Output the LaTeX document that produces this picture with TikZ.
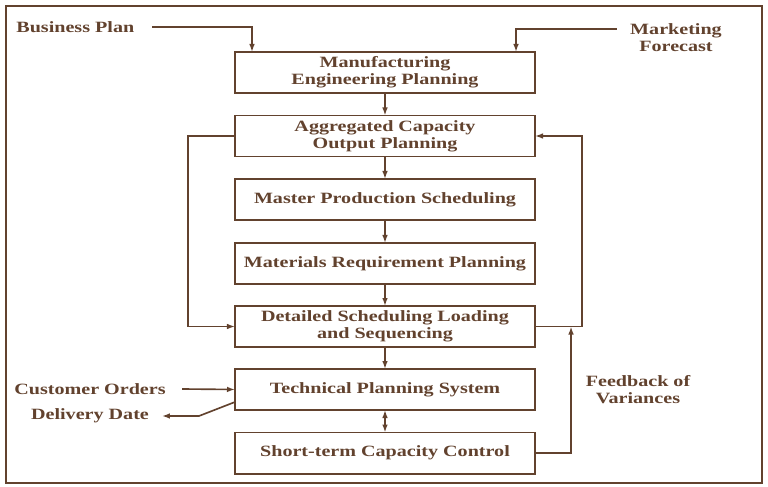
\documentclass[tikz,border=0pt]{standalone}
\usepackage{fontspec}
\setmainfont[FakeStretch=1.28]{Liberation Serif}
\usepackage{tikz}
\usetikzlibrary{arrows.meta,calc}
\definecolor{brn}{RGB}{98,66,46}

\tikzset{
  stage/.style={draw=brn,line width=1.7pt,fill=white,minimum width=9cm,minimum height=1.23cm,
    outer sep=0pt,inner sep=1pt,align=center,text=brn},
  lbl/.style={align=center,text=brn,inner sep=1pt},
  flow/.style={draw=brn,line width=1.4pt,-{Latex[length=2.4mm,width=1.7mm]}}
}

\begin{document}
\begin{tikzpicture}[x=0.03cm,y=-0.03cm,font=\fontsize{13.4}{14.4}\selectfont\bfseries]
\useasboundingbox (0,0) rectangle (768,487);
\draw[draw=brn,line width=1.7pt] (6,6) rectangle (762,483);
% main chain
\node[stage] (m1) at (385,72.5) {Manufacturing\\Engineering Planning};
\node[stage] (m2) at (385,136) {Aggregated Capacity\\Output Planning};
\node[stage] (m3) at (385,199.5) {Master Production Scheduling};
\node[stage] (m4) at (385,263.5) {Materials Requirement Planning};
\node[stage] (m5) at (385,326.5) {Detailed Scheduling Loading\\and Sequencing};
\node[stage] (m6) at (385,389.5) {Technical Planning System};
\node[stage] (m7) at (385,453) {Short-term Capacity Control};
\draw[flow] (m1) -- (m2);
\draw[flow] (m2) -- (m3);
\draw[flow] (m3) -- (m4);
\draw[flow] (m4) -- (m5);
\draw[flow] (m5) -- (m6);
\draw[flow,{Latex[length=2.4mm,width=1.7mm]}-{Latex[length=2.4mm,width=1.7mm]}] (m6) -- (m7);
% inputs at the top
\node[lbl,anchor=west] (bp) at (15,27) {Business Plan};
\node[lbl] (mf) at (676,38) {Marketing\\Forecast};
\draw[flow] ([xshift=0.5cm]bp.east) -| ($(m1.north west)+(17,0)$);
\draw[flow] ($(mf.west)+(-12,-9)$) -| ($(m1.north east)+(-19,0)$);
% loops
\draw[flow] (m2.west) -- ++(-47,0) |- (m5.west);
\draw[flow] (m5.east) -- ++(47,0) |- (m2.east);
\draw[flow] (m7.east) -| ($(m5.east)+(36,0)$);
\node[lbl] (fb) at (638,390) {Feedback of\\Variances};
% orders and dates
\node[lbl] (co) at (90,389) {Customer Orders};
\node[lbl] (dd) at (90,416) {Delivery Date};
\draw[flow] ([xshift=0.45cm]co.east) -- (m6.west);
\draw[flow] ($(m6.south west)+(0,-8)$) -- ++(-36,14) -- ([xshift=0.35cm]dd.east);
\end{tikzpicture}
\end{document}
